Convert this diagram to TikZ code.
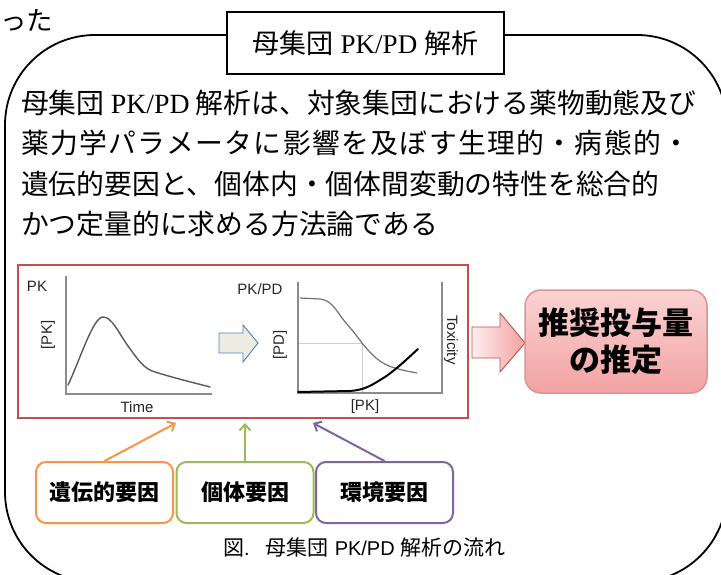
\documentclass[tikz,border=0pt]{standalone}
\usepackage{fontspec}
\setmainfont{Liberation Serif}
\newfontfamily\jp{Noto Sans CJK JP}
\newfontfamily\arial{Liberation Sans}
\usetikzlibrary{arrows.meta,shapes.geometric}
\definecolor{boxred}{HTML}{C0504D}
\definecolor{facorange}{HTML}{F79646}
\definecolor{facgreen}{HTML}{9BBB59}
\definecolor{facpurple}{HTML}{8064A2}
\definecolor{arrowbeige}{HTML}{EEECE1}
\definecolor{arrowblue}{HTML}{4F81BD}
\definecolor{pinktop}{HTML}{FAD3D3}
\definecolor{pinkbot}{HTML}{F2A2A2}
\definecolor{pinkline}{HTML}{D99694}
\tikzset{
  bodyline/.style={anchor=base west, inner sep=0pt, font=\jp\fontsize{27.8}{30}\selectfont},
  plotlabel/.style={inner sep=0pt, font=\arial\fontsize{15}{17}\selectfont, text=black!85},
  axisline/.style={draw=black!45, line width=1.3pt},
  pkcurve/.style={draw=black!65, line width=1.4pt, line cap=round},
  factor/.style={draw, rounded corners=10pt, line width=2pt, minimum width=137pt, minimum height=61pt, inner sep=0pt, font=\jp\bfseries\fontsize{22}{24}\selectfont},
  factorarrow/.style={line width=2pt, -{Straight Barb[length=6pt,width=11pt,line width=2pt]}},
}
\begin{document}
\begin{tikzpicture}[x=1pt,y=-1pt]
\useasboundingbox (0,0) rectangle (721,575);
\fill[white] (0,0) rectangle (721,575);
\begin{scope}
\clip (0,0) rectangle (721,575);
\draw[line width=1.8pt, rounded corners=90pt] (5,35) rectangle (727,582);
\end{scope}
\node[anchor=base west, inner sep=0pt, font=\jp\fontsize{26.5}{28}\selectfont] (cut) at (0,30.5) {った};
\node[draw, fill=white, line width=1.5pt, minimum width=277pt, minimum height=62pt, inner sep=0pt, font=\fontsize{27}{29}\selectfont] (title) at (365.5,43) {{\jp 母集団} PK/PD {\jp 解析}};
\node[bodyline] (l1) at (21,113.5) {母集団 {\rmfamily PK/PD} 解析は、対象集団における薬物動態及び};
\node[bodyline] (l2) at (21,153.5) {\addfontfeature{LetterSpace=5}薬力学パラメータに影響を及ぼす生理的・病態的・};
\node[bodyline] (l3) at (21,194.5) {遺伝的要因と、個体内・個体間変動の特性を総合的};
\node[bodyline] (l4) at (21,234.5) {かつ定量的に求める方法論である};
% red frame
\node[draw=boxred, line width=2.5pt, minimum width=450pt, minimum height=153pt, inner sep=0pt] (frame) at (243,341.5) {};
% PK plot
\draw[axisline] (66,276) -- (66,394) -- (212,394);
\draw[pkcurve] (68,385) .. controls (80,360) and (93,317) .. (103,317) .. controls (112,317) and (118,332) .. (128,346) .. controls (138,360) and (143,367) .. (152,371) .. controls (170,377) and (195,383) .. (210,387);
\node[plotlabel] (pk) at (37,286) {PK};
\node[plotlabel, rotate=90] (pky) at (48,335) {[PK]};
\node[plotlabel] (time) at (137,407) {Time};
% middle block arrow
\draw[fill=arrowbeige, draw=arrowblue, line width=0.9pt] (219,333) -- (243,333) -- (243,325) -- (258,343) -- (243,362) -- (243,353) -- (219,353) -- cycle;
% PD plot
\draw[draw=black!20, line width=1pt] (298,343) -- (362,343) -- (362,393);
\draw[axisline] (298,282) -- (298,393) -- (442,393) -- (442,282);
\draw[draw=black!55, line width=1.2pt] (300,298) -- (320,299) .. controls (330,300) and (335,308) .. (342,318) .. controls (350,328) and (355,333) .. (362,343) .. controls (372,355) and (380,364) .. (395,368) .. controls (405,371) and (412,372) .. (417,373);
\draw[draw=black, line width=2pt, line cap=round] (298,392) -- (350,391) .. controls (365,390) and (372,385) .. (385,377) .. controls (398,368) and (408,358) .. (418,349);
\node[plotlabel] (pkpd) at (260,289) {PK/PD};
\node[plotlabel, rotate=90] (pdy) at (280,345) {[PD]};
\node[plotlabel] (pkx) at (365,407) {[PK]};
\node[plotlabel, rotate=-90] (tox) at (451,340) {Toxicity};
% right block arrow
\draw[left color=pinktop!40!white, right color=pinkbot, draw=boxred, line width=0.9pt] (472,327) -- (500,327) -- (500,313) -- (525,343) -- (500,372) -- (500,358) -- (472,358) -- cycle;
% result box
\node[draw=pinkline, line width=1.5pt, rounded corners=16pt, top color=pinktop, bottom color=pinkbot, minimum width=182pt, minimum height=103pt, inner sep=0pt, align=center, font=\jp\bfseries\fontsize{31}{37}\selectfont] (result) at (616,341.5) {推奨投与量\\の推定};
% factors
\node[factor, draw=facorange] (f1) at (104.5,492.5) {遺伝的要因};
\node[factor, draw=facgreen] (f2) at (245,492.5) {個体要因};
\node[factor, draw=facpurple] (f3) at (384.5,492.5) {環境要因};
\coordinate (e1) at (176,423);
\coordinate (e2) at (245,423);
\coordinate (e3) at (313,423);
\draw[factorarrow, draw=facorange] (f1.north) -- (e1);
\draw[factorarrow, draw=facgreen] (f2.north) -- (e2);
\draw[factorarrow, draw=facpurple] (f3.north) -- (e3);
% caption
\node[anchor=west, inner sep=0pt, font=\jp\fontsize{21}{23}\selectfont] (cap) at (223,548) {図{\arial\fontsize{20}{22}\selectfont .}\hspace{16pt}母集団\hspace{6pt}{\arial\fontsize{20}{22}\selectfont PK/PD}\hspace{6pt}解析の流れ};
\end{tikzpicture}
\end{document}
